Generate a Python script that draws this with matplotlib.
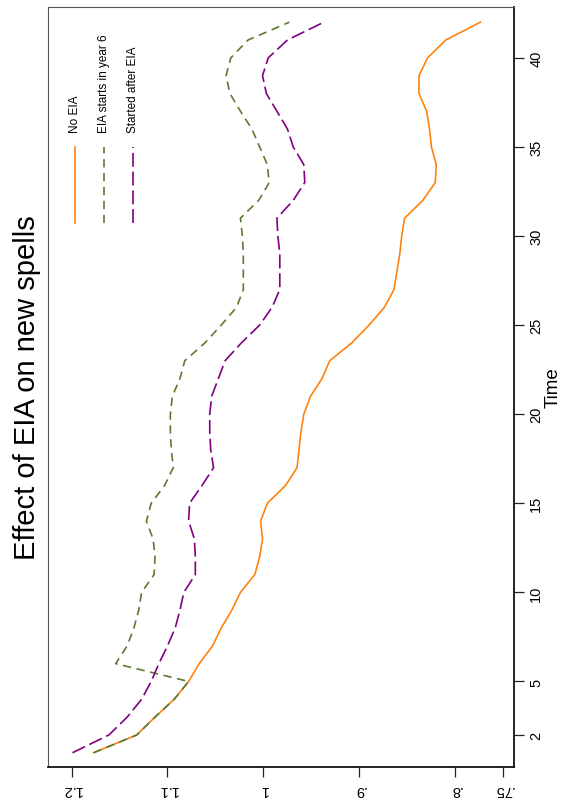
import matplotlib
matplotlib.use("Agg")
import matplotlib.pyplot as plt

time = list(range(1, 43))
no_eia = [1.177, 1.132, 1.113, 1.093, 1.078, 1.067, 1.053, 1.044, 1.033, 1.024,
          1.009, 1.004, 1.001, 1.003, 0.996, 0.977, 0.965, 0.963, 0.961, 0.958,
          0.951, 0.939, 0.931, 0.908, 0.890, 0.874, 0.864, 0.861, 0.858, 0.856,
          0.853, 0.834, 0.821, 0.820, 0.825, 0.827, 0.830, 0.838, 0.838, 0.829,
          0.810, 0.774]
eia_year6 = [1.177, 1.132, 1.113, 1.093, 1.078, 1.154, 1.142, 1.135, 1.130, 1.127,
             1.114, 1.113, 1.115, 1.122, 1.117, 1.103, 1.094, 1.096, 1.097, 1.097,
             1.095, 1.087, 1.082, 1.061, 1.044, 1.028, 1.021, 1.021, 1.021, 1.022,
             1.024, 1.005, 0.994, 0.996, 1.004, 1.012, 1.024, 1.035, 1.039, 1.034,
             1.016, 0.973]
after_eia = [1.199, 1.161, 1.142, 1.127, 1.117, 1.109, 1.100, 1.092, 1.087, 1.083,
             1.071, 1.071, 1.072, 1.078, 1.077, 1.064, 1.052, 1.055, 1.056, 1.056,
             1.054, 1.047, 1.040, 1.023, 1.004, 0.991, 0.983, 0.983, 0.983, 0.985,
             0.986, 0.969, 0.957, 0.958, 0.969, 0.975, 0.986, 0.997, 1.001, 0.995,
             0.975, 0.937]
labels = ["No EIA", "EIA starts in year 6", "Started after EIA"]
time_ticks = [2, 5, 10, 15, 20, 25, 30, 35, 40]
val_ticks = [1.2, 1.1, 1.0, 0.9, 0.8, 0.75]
val_labels = ["1.2", "1.1", "1", ".9", ".8", ".75"]

plt.rcParams["font.family"] = ["Liberation Sans", "DejaVu Sans"]
plt.rcParams["lines.scale_dashes"] = False

ORANGE, GREEN, PURPLE = "#ff8210", "#5b7a34", "#800080"
styles = [(ORANGE, "-"), (GREEN, (0, (6, 4))), (PURPLE, (0, (10, 3.5)))]

W, H = 564, 803
fig = plt.figure(figsize=(W / 100, H / 100), dpi=100)
ax = fig.add_axes([48 / W, 35 / H, (514 - 48) / W, (768 - 8) / H])

# chart is drawn turned 90 degrees: value runs along x (reversed), time up y
for series, (c, ls) in zip([no_eia, eia_year6, after_eia], styles):
    ax.plot(series, time, color=c, ls=ls, lw=1.2)

ax.set_xlim(1.2245, 0.739)
ax.set_ylim(0.2, 42.85)

ax.yaxis.tick_right()
ax.yaxis.set_label_position("right")
ax.set_yticks(time_ticks)
ax.set_yticklabels([str(t) for t in time_ticks], rotation=90, va="center", fontsize=10.5)
ax.set_xticks(val_ticks)
ax.set_xticklabels(val_labels, rotation=180, fontsize=10.5)
ax.tick_params(length=7, width=0.9, color="#222222", pad=4)
ax.set_ylabel("Time", rotation=90, fontsize=13.5, labelpad=1)

for side in ["top", "left"]:
    ax.spines[side].set_color("#555555")
    ax.spines[side].set_linewidth(0.8)
for side in ["bottom", "right"]:
    ax.spines[side].set_color("#111111")
    ax.spines[side].set_linewidth(1.3)

# legend drawn by hand, rotated like the rest of the chart
for i, (lab, (c, ls)) in enumerate(zip(labels, styles)):
    x = (75 + i * 29) / W
    fig.add_artist(plt.Line2D([x, x], [1 - 224 / H, 1 - 148 / H], color=c, ls=ls, lw=1.2,
                              transform=fig.transFigure))
    fig.text(x, 1 - 133 / H, lab, rotation=90, rotation_mode="anchor",
             ha="left", va="center", fontsize=8.5)

fig.text(27 / W, 1 - 388 / H, "Effect of EIA on new spells", rotation=90,
         ha="center", va="center", fontsize=21)

fig.savefig("out.png", dpi=100)
